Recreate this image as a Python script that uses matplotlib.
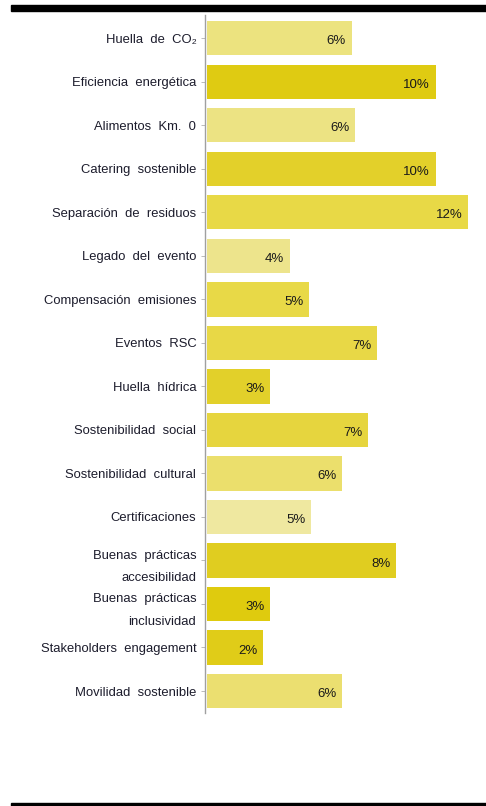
import matplotlib
matplotlib.use("Agg")
import matplotlib.pyplot as plt
from matplotlib.patches import Rectangle

plt.rcParams["font.family"] = ["Liberation Sans", "DejaVu Sans"]

# categories top -> bottom
categories = [
    "Huella  de  CO₂",
    "Eficiencia  energética",
    "Alimentos  Km.  0",
    "Catering  sostenible",
    "Separación  de  residuos",
    "Legado  del  evento",
    "Compensación  emisiones",
    "Eventos  RSC",
    "Huella  hídrica",
    "Sostenibilidad  social",
    "Sostenibilidad  cultural",
    "Certificaciones",
    "Buenas  prácticas\naccesibilidad",
    "Buenas  prácticas\ninclusividad",
    "Stakeholders  engagement",
    "Movilidad  sostenible",
]
# bar lengths (share, %)
values = [6.65, 10.5, 6.8, 10.5, 12.0, 3.8, 4.7, 7.8, 2.9, 7.4, 6.2, 4.8, 8.7, 2.9, 2.6, 6.2]
# printed labels
labels = ["6%", "10%", "6%", "10%", "12%", "4%", "5%", "7%", "3%", "7%", "6%", "5%", "8%", "3%", "2%", "6%"]
colors = ["#ece37f", "#dfcb12", "#ece383", "#e3d02a", "#e8d946", "#ede48c", "#e8d947", "#e8d846",
          "#e2d02a", "#e6d53e", "#ebdf6c", "#efe8a0", "#e0cd20", "#dfcb0e", "#e0cc18", "#ebdf70"]

fig = plt.figure(figsize=(4.86, 8.06), dpi=100)
ax = fig.add_axes([204.7 / 486, 93 / 806, 1 - 204.7 / 486, 698 / 806])

ypos = list(range(len(categories)))
ax.barh(ypos, values, height=0.79, color=colors, edgecolor="none")
for y, v, lab in zip(ypos, values, labels):
    ax.text(v - 0.26, y + 0.07, lab, ha="right", va="center", fontsize=9.5, color="#1a1a1a")

ax.set_ylim(15.505, -0.533)
ax.set_xlim(-0.09, 12.81)
ax.set_yticks(ypos)
ax.set_yticklabels(categories, fontsize=9.4, color="#1c1c2c", linespacing=2.15)
ax.set_xticks([])
for s in ("top", "right", "bottom"):
    ax.spines[s].set_visible(False)
ax.spines["left"].set_color("#a0a0a0")
ax.spines["left"].set_linewidth(1.0)
ax.tick_params(axis="y", length=3, width=0.6, color="#b0b0b0", pad=3)

# black bands at top and bottom of the page
fig.patches.append(Rectangle((11 / 486, 1 - 11 / 806), 1, 6 / 806, transform=fig.transFigure,
                             color="black", zorder=5))
fig.patches.append(Rectangle((11 / 486, 0), 1, 3.5 / 806, transform=fig.transFigure,
                             color="black", zorder=5))

fig.savefig("out.png", dpi=100)
